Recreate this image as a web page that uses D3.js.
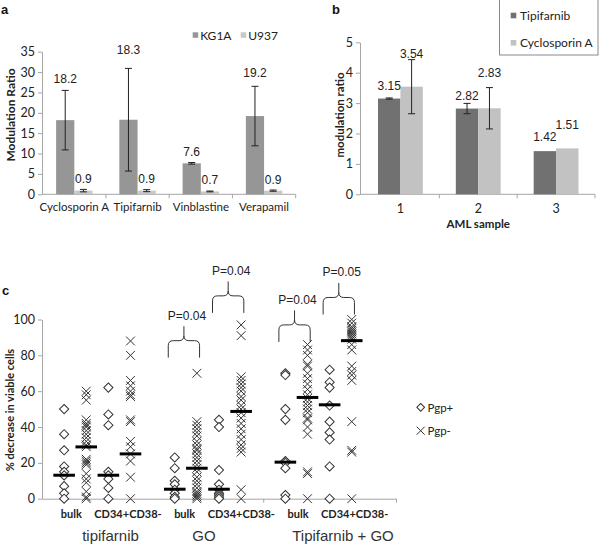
<!DOCTYPE html>
<html>
<head>
<meta charset="utf-8">
<script src="https://cdn.jsdelivr.net/npm/d3@7"></script>
<style>
  body { margin: 0; background: #fff; }
  svg { display: block; }
</style>
</head>
<body>
<script>
// ---- panel a data
const drugsA = ["Cyclosporin A", "Tipifarnib", "Vinblastine", "Verapamil"];
const kg1a = [18.2, 18.3, 7.6, 19.2];
const kg1aErr = [7.3, 12.6, 0.2, 7.3];
const u937 = [0.9, 0.9, 0.7, 0.9];
const u937Err = [0.3, 0.25, 0.1, 0.15];
const ticksA = [0, 5, 10, 15, 20, 25, 30, 35];

// ---- panel b data
const samplesB = ["1", "2", "3"];
const tipB = [3.15, 2.82, 1.42];
const tipBErr = [0.02, 0.17, 0];
const cycB = [3.54, 2.83, 1.51];
const cycBErr = [0.89, 0.68, 0];
const ticksB = [0, 1, 2, 3, 4, 5];

// ---- panel c data
const treatments = ["tipifarnib", "GO", "Tipifarnib + GO"];
const subsets = ["bulk", "CD34+CD38-"];
const ticksC = [0, 20, 40, 60, 80, 100];
const tipiBulkPos = [50, 36, 27, 18, 15, 13, 7, 3, 0];
const tipiBulkNeg = [60, 58, 55, 44, 42, 41, 40, 38, 36, 34, 32, 30, 29, 22, 21, 20, 19, 14, 11, 9, 4, 1, 0];
const tipiCd34Pos = [62, 47, 41, 15, 13, 11, 6, 0];
const tipiCd34Neg = [88, 80, 66, 63, 60, 58, 57, 44, 43, 32, 29, 25, 21, 12, 0];
const goBulkPos = [23, 17, 10, 8, 5, 3, 1, 0];
const goBulkNeg = [70, 43, 41, 39, 37, 35, 32, 30, 28, 27, 25, 23, 21, 19, 17, 15, 12, 10, 8, 6, 4, 3, 2, 1, 0];
const goCd34Pos = [44, 40, 16, 8, 5, 3, 2, 1, 0];
const goCd34Neg = [97, 91, 68, 66, 64, 62, 60, 57, 55, 52, 50, 48, 45, 42, 39, 36, 33, 30, 28, 26, 5, 0];
const tgBulkPos = [70, 69, 50, 44, 21, 20, 17, 2, 0];
const tgBulkNeg = [86, 83, 80, 75, 74, 70, 67, 64, 61, 58, 56, 54, 52, 50, 48, 45, 44, 40, 36, 15, 14, 0];
const tgCd34Pos = [72, 65, 62, 52, 43, 37, 33, 18, 0];
const tgCd34Neg = [100, 98, 96, 95, 94, 93, 92, 91, 90, 89, 86, 83, 74, 71, 69, 66, 43, 27, 26, 0];
// medians in column order (tipi bulk +/-, tipi cd34 +/-, go ..., t+go ...)
const medians = [13.1, 28.9, 13.1, 25, 5.3, 17, 5.3, 48.7, 20.4, 56.5, 52.4, 88.2];
const pTexts = ["P=0.04", "P=0.04", "P=0.04", "P=0.05"];
const pLevels = [78.7, 103.7, 87.5, 102.8];   // where the brace ends sit
const pCols = [[1, 0], [1, 1], [2, 0], [2, 1]];  // treatment, subset

const columns = [
  tipiBulkPos, tipiBulkNeg, tipiCd34Pos, tipiCd34Neg,
  goBulkPos, goBulkNeg, goCd34Pos, goCd34Neg,
  tgBulkPos, tgBulkNeg, tgCd34Pos, tgCd34Neg
];

// label lift above the error bar top, px (the labels were placed by hand)
const liftA = [[11.3, 10.4], [18, 10.4], [10.7, 11], [13.3, 10.4]];
const liftB = [[11.9, 5.6], [7.4, 14.3], [13.8, 23.4]];

const svg = d3.select("body").append("svg").attr("width", 600).attr("height", 545);
const ARIAL = "'Liberation Sans', Arial, sans-serif";
const CAL = "Lato, 'Liberation Sans', sans-serif";
const axisCol = "#a6a6a6", txt = "#222";

function styleAxis(g) {
  g.select(".domain").attr("stroke", axisCol);
  g.selectAll(".tick line").attr("stroke", axisCol);
  g.selectAll(".tick text").attr("fill", txt).attr("font-family", CAL).attr("font-size", 12.5);
}

// ================= panel a
const xA = d3.scaleBand().domain(drugsA).range([42.7, 295.7]);
const yA = d3.scaleLinear().domain([0, 35]).range([194.3, 51.7]);
const bwA = xA.bandwidth() * 0.288;
const cA = d => xA(d) + xA.bandwidth() / 2;

svg.append("g").attr("transform", "translate(42,0)")
  .call(d3.axisLeft(yA).tickValues(ticksA).tickFormat(d3.format("d")).tickSize(4).tickSizeOuter(0).tickPadding(3))
  .call(styleAxis);
svg.append("line").attr("x1", 42).attr("x2", xA.range()[1]).attr("y1", yA(0)).attr("y2", yA(0)).attr("stroke", axisCol);
svg.selectAll(".tka").data(drugsA).join("line")
  .attr("x1", d => xA(d) + xA.bandwidth()).attr("x2", d => xA(d) + xA.bandwidth())
  .attr("y1", yA(0)).attr("y2", yA(0) + 4).attr("stroke", axisCol);
svg.selectAll(".cata").data(drugsA).join("text")
  .attr("x", cA).attr("y", 206).attr("text-anchor", "middle").attr("dominant-baseline", "central")
  .attr("font-family", CAL).attr("font-size", 11.5).attr("fill", txt).text(d => d);

svg.selectAll(".barKG").data(drugsA).join("rect")
  .attr("x", d => cA(d) - bwA).attr("width", bwA)
  .attr("y", (d, i) => yA(kg1a[i])).attr("height", (d, i) => yA(0) - yA(kg1a[i]))
  .attr("fill", "#969696");
svg.selectAll(".barU").data(drugsA).join("rect")
  .attr("x", d => cA(d)).attr("width", bwA)
  .attr("y", (d, i) => yA(u937[i])).attr("height", (d, i) => yA(0) - yA(u937[i]))
  .attr("fill", "#c8c8c8");

function errBar(g, x, y0, y1) {
  g.append("line").attr("x1", x).attr("x2", x).attr("y1", y0).attr("y2", y1);
  g.append("line").attr("x1", x - 3.5).attr("x2", x + 3.5).attr("y1", y0).attr("y2", y0);
  g.append("line").attr("x1", x - 3.5).attr("x2", x + 3.5).attr("y1", y1).attr("y2", y1);
}
const errA = svg.append("g").attr("stroke", "#222").attr("stroke-width", 1);
drugsA.forEach((d, i) => {
  errBar(errA, cA(d) - bwA / 2, yA(kg1a[i] - kg1aErr[i]), yA(kg1a[i] + kg1aErr[i]));
  errBar(errA, cA(d) + bwA / 2, yA(u937[i] - u937Err[i]), yA(u937[i] + u937Err[i]));
});
drugsA.forEach((d, i) => {
  svg.append("text").attr("x", cA(d) - bwA / 2).attr("y", yA(kg1a[i] + kg1aErr[i]) - liftA[i][0])
    .attr("text-anchor", "middle").attr("dominant-baseline", "central")
    .attr("font-family", ARIAL).attr("font-size", 12).attr("fill", txt).text(kg1a[i].toFixed(1));
  svg.append("text").attr("x", cA(d) + bwA / 2).attr("y", yA(u937[i] + u937Err[i]) - liftA[i][1])
    .attr("text-anchor", "middle").attr("dominant-baseline", "central")
    .attr("font-family", ARIAL).attr("font-size", 12).attr("fill", txt).text(u937[i].toFixed(1));
});
svg.append("text").attr("transform", "translate(10,115) rotate(-90)").attr("text-anchor", "middle")
  .attr("dominant-baseline", "central").attr("font-family", CAL).attr("font-weight", "bold")
  .attr("font-size", 12).attr("fill", txt).text("Modulation Ratio");
// legend a
[["KG1A", "#969696", 192.7], ["U937", "#c8c8c8", 240.7]].forEach(l => {
  svg.append("rect").attr("x", l[2]).attr("y", 32.3).attr("width", 5.5).attr("height", 5.5).attr("fill", l[1]);
  svg.append("text").attr("x", l[2] + 7.5).attr("y", 35).attr("dominant-baseline", "central")
    .attr("font-family", CAL).attr("font-size", 12).attr("fill", txt).text(l[0]);
});
svg.append("text").attr("x", 1).attr("y", 14).attr("font-family", ARIAL).attr("font-weight", "bold")
  .attr("font-size", 13).attr("fill", "#111").text("a");

// ================= panel b
const xB = d3.scaleBand().domain(samplesB).range([361.5, 595]);
const yB = d3.scaleLinear().domain([0, 5]).range([194.3, 42.3]);
const bwB = xB.bandwidth() * 0.288;
const cB = d => xB(d) + xB.bandwidth() / 2;

svg.append("g").attr("transform", "translate(360,0)")
  .call(d3.axisLeft(yB).tickValues(ticksB).tickFormat(d3.format("d")).tickSize(4).tickSizeOuter(0).tickPadding(3))
  .call(styleAxis);
svg.append("line").attr("x1", 360).attr("x2", xB.range()[1]).attr("y1", yB(0)).attr("y2", yB(0)).attr("stroke", axisCol);
svg.selectAll(".tkb").data(samplesB).join("line")
  .attr("x1", d => xB(d) + xB.bandwidth()).attr("x2", d => xB(d) + xB.bandwidth())
  .attr("y1", yB(0)).attr("y2", yB(0) + 4).attr("stroke", axisCol);
svg.selectAll(".catb").data(samplesB).join("text")
  .attr("x", cB).attr("y", 208).attr("text-anchor", "middle").attr("dominant-baseline", "central")
  .attr("font-family", CAL).attr("font-size", 12.5).attr("fill", txt).text(d => d);

svg.selectAll(".barT").data(samplesB).join("rect")
  .attr("x", d => cB(d) - bwB).attr("width", bwB)
  .attr("y", (d, i) => yB(tipB[i])).attr("height", (d, i) => yB(0) - yB(tipB[i]))
  .attr("fill", "#717171");
svg.selectAll(".barC").data(samplesB).join("rect")
  .attr("x", d => cB(d)).attr("width", bwB)
  .attr("y", (d, i) => yB(cycB[i])).attr("height", (d, i) => yB(0) - yB(cycB[i]))
  .attr("fill", "#c2c2c2");
const errB = svg.append("g").attr("stroke", "#222").attr("stroke-width", 1);
samplesB.forEach((d, i) => {
  if (tipBErr[i] > 0) errBar(errB, cB(d) - bwB / 2, yB(tipB[i] - tipBErr[i]), yB(tipB[i] + tipBErr[i]));
  if (cycBErr[i] > 0) errBar(errB, cB(d) + bwB / 2, yB(cycB[i] - cycBErr[i]), yB(cycB[i] + cycBErr[i]));
  svg.append("text").attr("x", cB(d) - bwB / 2).attr("y", yB(tipB[i] + tipBErr[i]) - liftB[i][0])
    .attr("text-anchor", "middle").attr("dominant-baseline", "central")
    .attr("font-family", ARIAL).attr("font-size", 12).attr("fill", txt).text(tipB[i].toFixed(2));
  svg.append("text").attr("x", cB(d) + bwB / 2).attr("y", yB(cycB[i] + cycBErr[i]) - liftB[i][1])
    .attr("text-anchor", "middle").attr("dominant-baseline", "central")
    .attr("font-family", ARIAL).attr("font-size", 12).attr("fill", txt).text(cycB[i].toFixed(2));
});
svg.append("text").attr("transform", "translate(339,115) rotate(-90)").attr("text-anchor", "middle")
  .attr("dominant-baseline", "central").attr("font-family", CAL).attr("font-weight", "bold")
  .attr("font-size", 11.5).attr("fill", txt).text("modulation ratio");
svg.append("text").attr("x", cB("2")).attr("y", 223).attr("text-anchor", "middle")
  .attr("dominant-baseline", "central").attr("font-family", CAL).attr("font-weight", "bold")
  .attr("font-size", 11.5).attr("fill", txt).text("AML sample");
// legend b
svg.append("rect").attr("x", 499.5).attr("y", -1).attr("width", 98.5).attr("height", 56)
  .attr("fill", "#fff").attr("stroke", "#8a8a8a");
[["Tipifarnib", "#717171", 15.5], ["Cyclosporin A", "#c2c2c2", 42.8]].forEach(l => {
  svg.append("rect").attr("x", 510.7).attr("y", l[2] - 2.8).attr("width", 5.6).attr("height", 5.6).attr("fill", l[1]);
  svg.append("text").attr("x", 520).attr("y", l[2]).attr("dominant-baseline", "central")
    .attr("font-family", CAL).attr("font-size", 12).attr("fill", txt).text(l[0]);
});
svg.append("text").attr("x", 332).attr("y", 14).attr("font-family", ARIAL).attr("font-weight", "bold")
  .attr("font-size", 13).attr("fill", "#111").text("b");

// ================= panel c
const xC = d3.scaleLinear().domain([0, 16]).range([42, 396]);
const yC = d3.scaleLinear().domain([0, 100]).range([498.7, 319.5]);
const colPos = i => 1 + 5 * Math.floor(i / 4) + (i % 4);   // column index -> x units

svg.append("g").attr("transform", "translate(42,0)")
  .call(d3.axisLeft(yC).tickValues(ticksC).tickFormat(d3.format("d")).tickSize(4).tickSizeOuter(0).tickPadding(3))
  .call(styleAxis);
svg.append("g").attr("transform", `translate(0,${yC(0)})`)
  .call(d3.axisBottom(xC).tickValues([10, 16]).tickSize(4).tickSizeOuter(0).tickFormat(""))
  .call(styleAxis);

const catC = d3.scaleBand().domain(d3.range(6)).range([43, 383]);
svg.selectAll(".catc").data(d3.range(6)).join("text")
  .attr("x", d => catC(d) + catC.bandwidth() / 2).attr("y", 513)
  .attr("text-anchor", "middle").attr("dominant-baseline", "central")
  .attr("font-family", CAL).attr("font-weight", "bold").attr("font-size", 11)
  .attr("fill", txt).text(d => subsets[d % 2]);
const grpX = [110.5, 204, 343];
treatments.forEach((t, g) => {
  svg.append("text").attr("x", grpX[g]).attr("y", 535.5).attr("text-anchor", "middle")
    .attr("dominant-baseline", "central").attr("font-family", ARIAL).attr("font-size", 15)
    .attr("fill", "#333").text(t);
});
svg.append("text").attr("transform", "translate(9,410) rotate(-90)").attr("text-anchor", "middle")
  .attr("dominant-baseline", "central").attr("font-family", CAL).attr("font-weight", "bold")
  .attr("font-size", 11).attr("fill", txt).text("% decrease in viable cells");

const diamond = d3.symbol(d3.symbolSquare).size(42);
function crossPath(r) {
  const p = d3.path();
  p.moveTo(-r, -r); p.lineTo(r, r); p.moveTo(-r, r); p.lineTo(r, -r);
  return p.toString();
}
columns.forEach((vals, i) => {
  const x = xC(colPos(i));
  const neg = i % 2 === 1;
  const g = svg.append("g");
  g.selectAll("path").data(vals).join("path")
    .attr("transform", d => neg ? `translate(${x},${yC(d)})` : `translate(${x},${yC(d)}) rotate(45)`)
    .attr("d", neg ? crossPath(4.4) : diamond())
    .attr("fill", neg ? "none" : "#fff").attr("stroke", "#333").attr("stroke-width", 1);
});
svg.selectAll(".med").data(medians).join("line")
  .attr("x1", (d, i) => xC(colPos(i)) - 10.8).attr("x2", (d, i) => xC(colPos(i)) + 10.8)
  .attr("y1", d => yC(d)).attr("y2", d => yC(d))
  .attr("stroke", "#000").attr("stroke-width", 3);

// brackets with p values
pCols.forEach((pc, k) => {
  const i0 = pc[0] * 4 + pc[1] * 2;
  const L = xC(colPos(i0)) - 6.5, R = xC(colPos(i0 + 1)) + 2.7, M = (L + R) / 2;
  const bot = yC(pLevels[k]), h = bot - 17, tip = h - 14.5, r = 5;
  const p = d3.path();
  p.moveTo(L, bot); p.lineTo(L, h + r); p.quadraticCurveTo(L, h, L + r, h);
  p.lineTo(M - r, h); p.quadraticCurveTo(M, h, M, h - r); p.lineTo(M, tip);
  p.moveTo(M, h - r); p.quadraticCurveTo(M, h, M + r, h);
  p.lineTo(R - r, h); p.quadraticCurveTo(R, h, R, h + r); p.lineTo(R, bot);
  svg.append("path").attr("d", p.toString()).attr("fill", "none").attr("stroke", "#333").attr("stroke-width", 1);
  svg.append("text").attr("x", M + 3).attr("y", tip - 10.5).attr("text-anchor", "middle")
    .attr("dominant-baseline", "central").attr("font-family", ARIAL).attr("font-size", 12)
    .attr("fill", txt).text(pTexts[k]);
});

// legend c
svg.append("path").attr("transform", `translate(420.7,407.3) rotate(45)`).attr("d", d3.symbol(d3.symbolSquare).size(30)())
  .attr("fill", "#fff").attr("stroke", "#333");
svg.append("path").attr("transform", `translate(420.7,430.7)`).attr("d", crossPath(4))
  .attr("fill", "none").attr("stroke", "#333");
[["Pgp+", 407.3], ["Pgp-", 430.7]].forEach(l => {
  svg.append("text").attr("x", 427.5).attr("y", l[1]).attr("dominant-baseline", "central")
    .attr("font-family", CAL).attr("font-size", 11.5).attr("fill", txt).text(l[0]);
});
svg.append("text").attr("x", 2).attr("y", 295).attr("font-family", ARIAL).attr("font-weight", "bold")
  .attr("font-size", 13).attr("fill", "#111").text("c");
</script>
</body>
</html>
